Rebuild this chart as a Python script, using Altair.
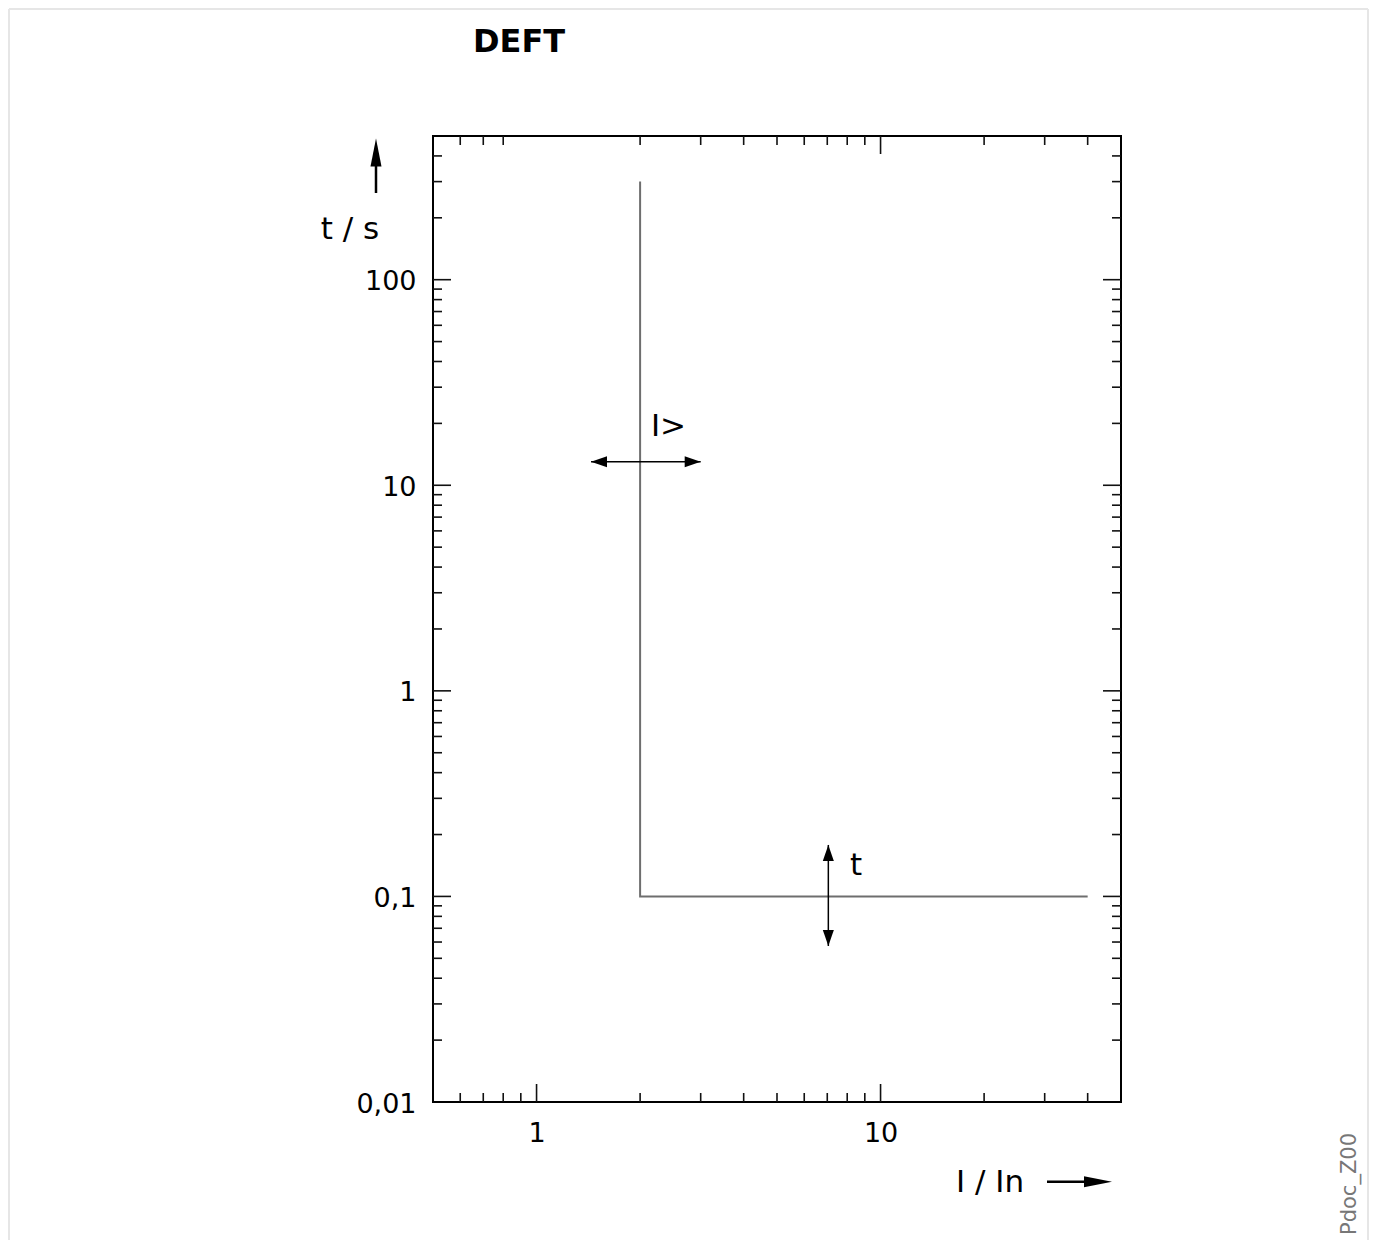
import altair as alt
import pandas as pd

# ---- data ----
x_domain = [0.5, 50]
y_domain = [0.01, 500]

curve_I = [2, 2, 40]
curve_t = [300, 0.1, 0.1]

x_label_values = [1, 10]
y_label_values = [0.01, 0.1, 1, 10, 100]

x_minor_bottom = [0.6, 0.7, 0.8, 0.9, 2, 3, 4, 5, 6, 7, 8, 9, 20, 30, 40]
x_major_bottom = [1, 10]
x_minor_top = [0.6, 0.7, 0.8, 2, 3, 4, 5, 6, 7, 8, 9, 20, 30, 40]
x_major_top = [10]
y_minor = [0.02, 0.03, 0.04, 0.05, 0.06, 0.07, 0.08, 0.09,
           0.2, 0.3, 0.4, 0.5, 0.6, 0.7, 0.8, 0.9,
           2, 3, 4, 5, 6, 7, 8, 9,
           20, 30, 40, 50, 60, 70, 80, 90,
           200, 300, 400]
y_major = [0.1, 1, 10, 100]

# setting arrows
iset_I = [1.44, 3.0]
iset_t = 13.0
tset_I = 7.05
tset_t = [0.178, 0.0574]

ann_text = ["I>", "t"]
ann_I = [2.15, 8.15]
ann_t = [17.4, 0.127]

W, H = 688, 966
FONT = "DejaVu Sans"

xs = alt.Scale(type="log", domain=x_domain, nice=False)
ys = alt.Scale(type="log", domain=y_domain, nice=False)

XAXIS = alt.Axis(values=x_label_values, ticks=False, tickSize=0, domain=False, grid=False,
                 labelFontSize=27, labelColor="black", labelPadding=18, labelFont=FONT,
                 title=None, labelExpr="replace(toString(datum.value), '.', ',')")
YAXIS = alt.Axis(values=y_label_values, ticks=False, tickSize=0, domain=False, grid=False,
                 labelFontSize=27, labelColor="black", labelPadding=17, labelFont=FONT,
                 labelOffset=2,
                 title=None, labelExpr="replace(toString(datum.value), '.', ',')")


def xenc(field):
    return alt.X(field, type="quantitative", scale=xs, axis=XAXIS)


def yenc(field):
    return alt.Y(field, type="quantitative", scale=ys, axis=YAXIS)


curve_df = pd.DataFrame({"I": curve_I, "t": curve_t, "o": [0, 1, 2]})
curve = alt.Chart(curve_df).mark_line(color="#6e6e6e", strokeWidth=2, clip=True).encode(
    x=xenc("I"), y=yenc("t"), order="o:O")

TICK_COLOR = "#111111"


def xticks(vals, length, top):
    df = pd.DataFrame({"I": vals})
    if top:
        yv, y2v = alt.value(0), alt.value(length)
    else:
        yv, y2v = alt.value(H), alt.value(H - length)
    return alt.Chart(df).mark_rule(color=TICK_COLOR, strokeWidth=1.6).encode(
        x=xenc("I"), y=yv, y2=y2v)


def yticks(vals, length, right):
    df = pd.DataFrame({"t": vals})
    if right:
        xv, x2v = alt.value(W), alt.value(W - length)
    else:
        xv, x2v = alt.value(0), alt.value(length)
    return alt.Chart(df).mark_rule(color=TICK_COLOR, strokeWidth=1.6).encode(
        y=yenc("t"), x=xv, x2=x2v)


MINOR, MAJOR = 9, 18
tick_layers = [
    xticks(x_minor_bottom, MINOR, False), xticks(x_major_bottom, MAJOR, False),
    xticks(x_minor_top, MINOR, True), xticks(x_major_top, MAJOR, True),
    yticks(y_minor, MINOR, False), yticks(y_major, MAJOR, False),
    yticks(y_minor, MINOR, True), yticks(y_major, MAJOR, True),
]

# double arrow for pickup setting I>
iarrow_df = pd.DataFrame({"I": [iset_I[0]], "I2": [iset_I[1]], "t": [iset_t]})
iarrow_line = alt.Chart(iarrow_df).mark_rule(color="black", strokeWidth=1.5).encode(
    x=xenc("I"), x2="I2:Q", y=yenc("t"))

R_PATH = "M0,0L-2,-0.69L-2,0.69Z"
L_PATH = "M0,0L2,-0.69L2,0.69Z"
U_PATH = "M0,0L-0.69,2L0.69,2Z"
D_PATH = "M0,0L-0.69,-2L0.69,-2Z"


def head(df, path, size=256):
    return alt.Chart(df).mark_point(shape=path, filled=True, size=size, color="black",
                                    opacity=1, strokeWidth=0).encode(
        x=xenc("I"), y=yenc("t"))


ihead_l = head(pd.DataFrame({"I": [iset_I[0]], "t": [iset_t]}), L_PATH)
ihead_r = head(pd.DataFrame({"I": [iset_I[1]], "t": [iset_t]}), R_PATH)

tarrow_df = pd.DataFrame({"I": [tset_I], "t": [tset_t[0]], "t2": [tset_t[1]]})
tarrow_line = alt.Chart(tarrow_df).mark_rule(color="black", strokeWidth=1.5).encode(
    x=xenc("I"), y=yenc("t"), y2="t2:Q")
thead_u = head(pd.DataFrame({"I": [tset_I], "t": [tset_t[0]]}), U_PATH)
thead_d = head(pd.DataFrame({"I": [tset_I], "t": [tset_t[1]]}), D_PATH)

ann_df = pd.DataFrame({"I": ann_I, "t": ann_t, "txt": ann_text})
ann = alt.Chart(ann_df).mark_text(font=FONT, fontSize=31, align="left",
                                  baseline="alphabetic", color="black").encode(
    x=xenc("I"), y=yenc("t"), text="txt:N")

one = pd.DataFrame({"k": [0]})

title = alt.Chart(one).mark_text(font=FONT, fontSize=32, fontWeight="bold", align="center",
                                 baseline="alphabetic", color="black").encode(
    x=alt.value(86), y=alt.value(-84), text=alt.value("DEFT"))

ytitle = alt.Chart(one).mark_text(font=FONT, fontSize=31, align="center",
                                  baseline="alphabetic", color="black").encode(
    x=alt.value(-83), y=alt.value(103), text=alt.value("t / s"))
xtitle = alt.Chart(one).mark_text(font=FONT, fontSize=31, align="center",
                                  baseline="alphabetic", color="black").encode(
    x=alt.value(557), y=alt.value(1056), text=alt.value("I / In"))

# axis direction arrows (pixel-placed decorations)
up_shaft = alt.Chart(one).mark_rule(color="black", strokeWidth=2.5).encode(
    x=alt.value(-57), y=alt.value(22), y2=alt.value(57))
up_head = alt.Chart(one).mark_point(shape="M0,0L-0.786,4L0.786,4Z", filled=True, size=196,
                                    color="black", opacity=1, strokeWidth=0).encode(
    x=alt.value(-57), y=alt.value(2.5))
rt_shaft = alt.Chart(one).mark_rule(color="black", strokeWidth=2.5).encode(
    x=alt.value(614), x2=alt.value(660), y=alt.value(1045.7))
rt_head = alt.Chart(one).mark_point(shape="M0,0L-4,-0.786L-4,0.786Z", filled=True, size=196,
                                    color="black", opacity=1, strokeWidth=0).encode(
    x=alt.value(679), y=alt.value(1045.7))

doc_id = alt.Chart(one).mark_text(font=FONT, fontSize=21, align="center", angle=270,
                                  baseline="alphabetic", color="#777777").encode(
    x=alt.value(923), y=alt.value(1048), text=alt.value("Pdoc_Z00"))

frame_left = alt.Chart(one).mark_rule(color="#e6e6e6", strokeWidth=2).encode(
    x=alt.value(-424), y=alt.value(-127), y2=alt.value(1114))
frame_top = alt.Chart(one).mark_rule(color="#e6e6e6", strokeWidth=2).encode(
    x=alt.value(-424), x2=alt.value(935), y=alt.value(-127))
frame_right = alt.Chart(one).mark_rule(color="#e6e6e6", strokeWidth=2).encode(
    x=alt.value(935), y=alt.value(-127), y2=alt.value(1114))

chart = alt.layer(
    curve, *tick_layers,
    frame_left, frame_top, frame_right,
    iarrow_line, ihead_l, ihead_r,
    tarrow_line, thead_u, thead_d,
    ann, title, ytitle, xtitle,
    up_shaft, up_head, rt_shaft, rt_head, doc_id,
).properties(
    width=W, height=H,
    autosize="none",
    padding={"left": 425, "top": 128, "right": 248, "bottom": 138},
).configure(
    font=FONT, background="white"
).configure_view(
    stroke="black", strokeWidth=2
)

chart.save("out.html", embed_options={"renderer": "svg", "actions": False})
